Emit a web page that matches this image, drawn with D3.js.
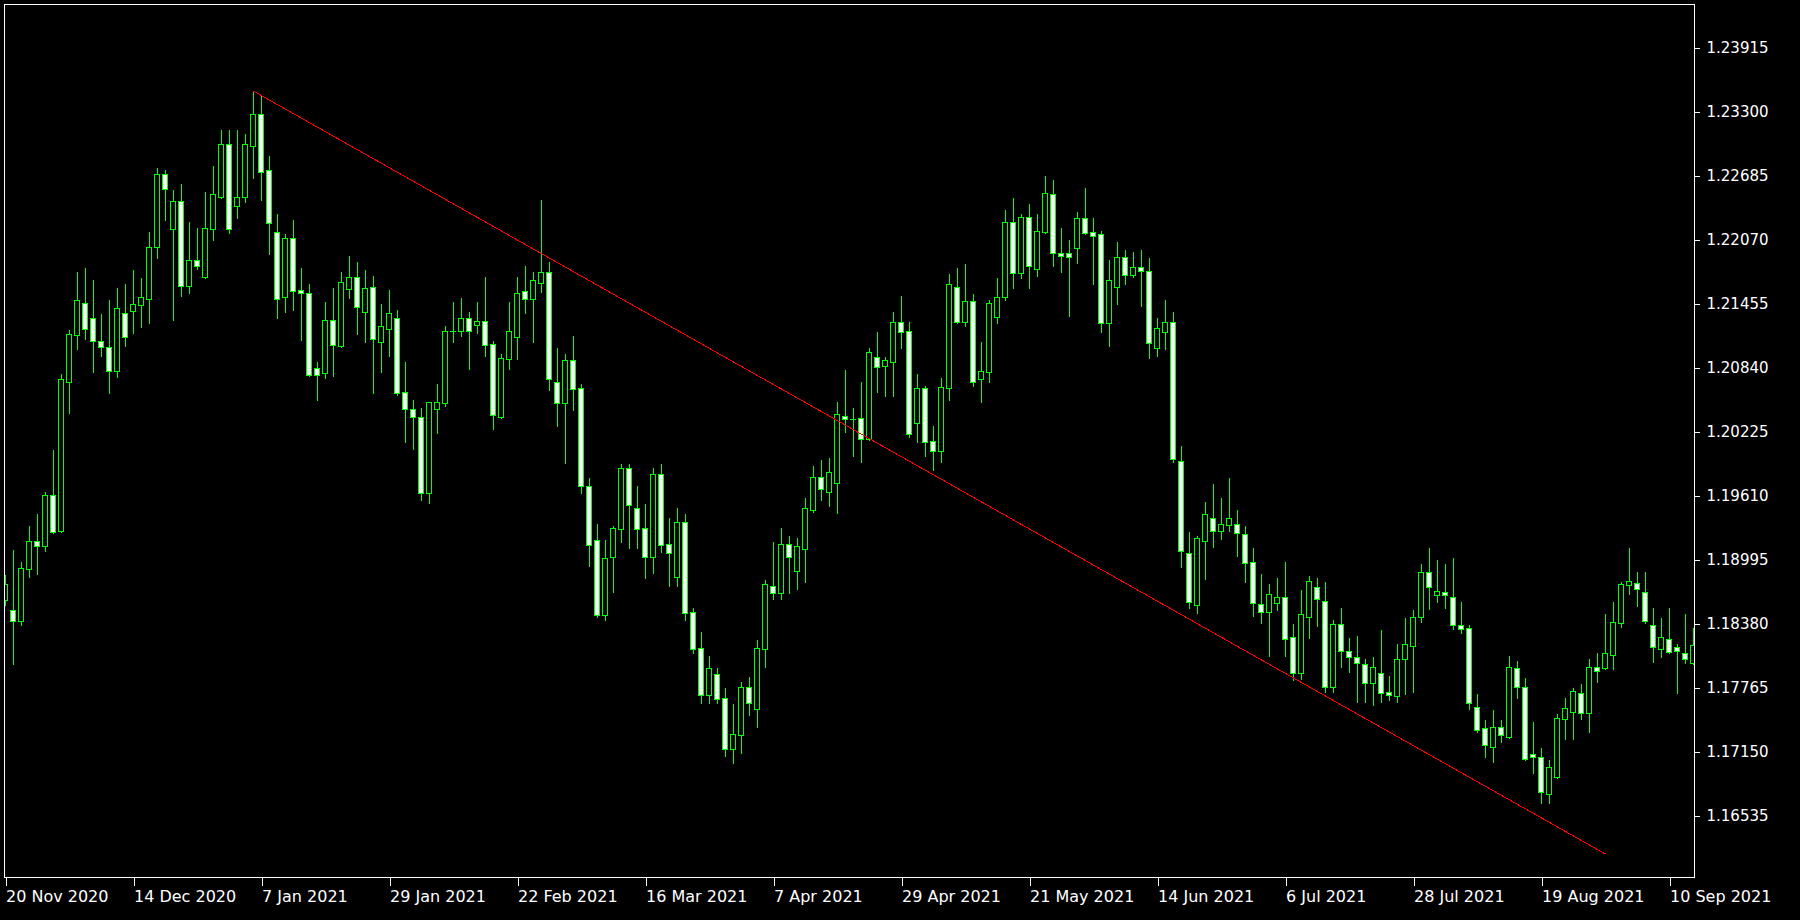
<!DOCTYPE html>
<html><head><meta charset="utf-8">
<script src="https://cdn.jsdelivr.net/npm/d3@7"></script>
<style>html,body{margin:0;padding:0;background:#000;overflow:hidden}</style>
</head><body>
<svg id="chart" width="1800" height="920"></svg>
<script>
// Daily EURUSD-style bars, one per trading day from 20 Nov 2020
const opens = [1.18607,1.18511,1.18405,1.18905,1.19174,1.19126,1.19616,1.19270,1.20702,1.21154,1.21461,1.21317,1.21096,1.21038,1.20808,1.21365,1.21384,1.21442,1.21500,1.21999,1.22701,1.22172,1.22441,1.21625,1.21874,1.21711,1.22172,1.22480,1.22989,1.22393,1.22480,1.22970,1.23277,1.22739,1.22144,1.21519,1.22086,1.21586,1.21557,1.20837,1.20788,1.21298,1.21048,1.21596,1.21711,1.21375,1.21615,1.21086,1.21211,1.21317,1.20606,1.20443,1.20366,1.19635,1.20443,1.20500,1.21192,1.21192,1.21317,1.21250,1.21288,1.21067,1.20366,1.20923,1.21134,1.21576,1.21500,1.21653,1.21759,1.20702,1.20500,1.20913,1.20644,1.19703,1.19184,1.18463,1.19020,1.19289,1.19876,1.19491,1.19299,1.19020,1.19818,1.19145,1.18828,1.19357,1.18492,1.18146,1.17694,1.17896,1.17665,1.17175,1.17310,1.17771,1.17560,1.18137,1.18742,1.18674,1.19145,1.18886,1.19097,1.19472,1.19789,1.19645,1.19731,1.20375,1.20346,1.20356,1.20154,1.20942,1.20856,1.20894,1.21279,1.21192,1.20308,1.20644,1.20135,1.20039,1.20644,1.21615,1.21279,1.21480,1.20731,1.20798,1.21327,1.21519,1.22240,1.21749,1.22288,1.21788,1.22144,1.22509,1.21942,1.21942,1.21990,1.22278,1.22144,1.22124,1.21269,1.21615,1.21903,1.21730,1.21807,1.21769,1.21029,1.21183,1.21279,1.19943,1.19059,1.18559,1.19174,1.19395,1.19270,1.19328,1.19337,1.19241,1.18972,1.18569,1.18492,1.18578,1.18636,1.18251,1.17906,1.18444,1.18732,1.18597,1.17771,1.18376,1.18117,1.18059,1.17992,1.17810,1.17906,1.17723,1.17684,1.18043,1.18165,1.18444,1.18876,1.18655,1.18684,1.18636,1.18367,1.18338,1.17579,1.17377,1.17194,1.17387,1.17290,1.17954,1.17771,1.17127,1.17098,1.16743,1.16906,1.17463,1.17531,1.17713,1.17522,1.17963,1.17954,1.18078,1.18386,1.18752,1.18771,1.18684,1.18367,1.18137,1.18232,1.18156,1.18098,1.18002];
const highs = [1.18847,1.19087,1.18972,1.19318,1.19433,1.19645,1.20049,1.20779,1.21202,1.21759,1.21798,1.21682,1.21355,1.21490,1.21605,1.21644,1.21778,1.21702,1.22144,1.22759,1.22739,1.22547,1.22605,1.22240,1.22182,1.22528,1.22778,1.23124,1.23124,1.23124,1.23085,1.23498,1.23450,1.22874,1.22317,1.22124,1.22259,1.21798,1.21644,1.20894,1.21471,1.21605,1.21759,1.21913,1.21855,1.21778,1.21721,1.21452,1.21586,1.21394,1.20894,1.20529,1.20452,1.20510,1.20683,1.21240,1.21471,1.21509,1.21375,1.21471,1.21711,1.21096,1.20971,1.21471,1.21711,1.21817,1.21759,1.22451,1.21855,1.21029,1.20971,1.21144,1.20683,1.19779,1.19337,1.19184,1.19318,1.19914,1.19914,1.19703,1.19530,1.19876,1.19914,1.19395,1.19491,1.19433,1.18530,1.18300,1.18069,1.17954,1.17761,1.17608,1.17819,1.17867,1.18223,1.18799,1.19164,1.19299,1.19222,1.19203,1.19587,1.19895,1.19952,1.19971,1.20510,1.20817,1.20452,1.20702,1.21029,1.21183,1.20942,1.21375,1.21528,1.21279,1.20779,1.20664,1.20279,1.20740,1.21740,1.21798,1.21836,1.21548,1.21086,1.21490,1.21702,1.22355,1.22470,1.22317,1.22413,1.22317,1.22682,1.22643,1.22182,1.22067,1.22336,1.22566,1.22278,1.22153,1.21874,1.22047,1.21971,1.21951,1.21971,1.21894,1.21317,1.21490,1.21375,1.20087,1.19260,1.19222,1.19549,1.19722,1.19587,1.19779,1.19472,1.19318,1.19107,1.18857,1.18761,1.18818,1.18972,1.18376,1.18703,1.18838,1.18818,1.18780,1.18415,1.18530,1.18242,1.18261,1.18040,1.18059,1.18319,1.17877,1.18185,1.18434,1.18511,1.18953,1.19107,1.18991,1.18953,1.19011,1.18588,1.18367,1.17704,1.17454,1.17550,1.17454,1.18069,1.18020,1.17857,1.17435,1.17185,1.17070,1.17512,1.17665,1.17761,1.17800,1.18040,1.18098,1.18472,1.18588,1.18780,1.19107,1.18876,1.18876,1.18530,1.18434,1.18530,1.18185,1.18472,1.18338];
const lows = [1.18559,1.17992,1.18367,1.18828,1.18857,1.19078,1.19251,1.19260,1.20404,1.21019,1.21115,1.20798,1.20952,1.20596,1.20750,1.21048,1.21173,1.21231,1.21269,1.21894,1.22259,1.21298,1.21528,1.21557,1.21788,1.21702,1.22067,1.22470,1.22134,1.22278,1.22432,1.22662,1.22451,1.21932,1.21317,1.21375,1.21394,1.21106,1.20760,1.20529,1.20740,1.20760,1.21038,1.21509,1.21163,1.21086,1.20596,1.20798,1.20952,1.20577,1.20125,1.20058,1.19568,1.19539,1.20212,1.20471,1.21086,1.21144,1.20827,1.21173,1.20952,1.20249,1.20356,1.20827,1.20923,1.21365,1.21086,1.21567,1.20625,1.20279,1.19924,1.20433,1.19635,1.18934,1.18444,1.18415,1.18684,1.19164,1.19107,1.19107,1.18818,1.18866,1.19068,1.18742,1.18742,1.18415,1.18098,1.17617,1.17617,1.17617,1.17108,1.17041,1.17137,1.17502,1.17387,1.17963,1.18617,1.18617,1.18674,1.18713,1.18780,1.19453,1.19568,1.19510,1.19443,1.20222,1.19991,1.19933,1.20145,1.20606,1.20567,1.20567,1.21029,1.20173,1.20125,1.19991,1.19856,1.19933,1.20529,1.21269,1.21240,1.20664,1.20510,1.20702,1.21269,1.21490,1.21605,1.21702,1.21605,1.21721,1.22134,1.21817,1.21759,1.21336,1.21846,1.22124,1.21644,1.21183,1.21048,1.21452,1.21644,1.21711,1.21432,1.20933,1.20952,1.21019,1.19933,1.18924,1.18530,1.18482,1.18809,1.19116,1.19193,1.19270,1.19030,1.18780,1.18453,1.18386,1.18069,1.18511,1.18069,1.17838,1.17848,1.18242,1.18357,1.17723,1.17723,1.17963,1.17915,1.17627,1.17627,1.17598,1.17627,1.17646,1.17627,1.17704,1.17723,1.18396,1.18521,1.18588,1.18530,1.18328,1.18290,1.17560,1.17338,1.17098,1.17051,1.17242,1.17281,1.17665,1.17070,1.16945,1.16656,1.16656,1.16897,1.17271,1.17271,1.17463,1.17338,1.17819,1.17944,1.17944,1.18347,1.18665,1.18549,1.18386,1.18011,1.18059,1.18098,1.17713,1.18002,1.17992];
const closes = [1.18761,1.18405,1.18915,1.19174,1.19126,1.19616,1.19260,1.20731,1.21163,1.21490,1.21211,1.21096,1.21038,1.20808,1.21413,1.21134,1.21452,1.21519,1.21999,1.22701,1.22557,1.22441,1.21625,1.21874,1.21817,1.22182,1.22509,1.22989,1.22172,1.22480,1.22989,1.23277,1.22720,1.22230,1.21500,1.22086,1.21576,1.21557,1.20769,1.20769,1.21298,1.21058,1.21663,1.21711,1.21423,1.21605,1.21115,1.21240,1.21365,1.20596,1.20443,1.20366,1.19635,1.20510,1.20510,1.21192,1.21195,1.21317,1.21192,1.21288,1.21058,1.20385,1.20933,1.21192,1.21557,1.21500,1.21682,1.21759,1.20731,1.20500,1.20913,1.20635,1.19703,1.19136,1.18463,1.19011,1.19299,1.19876,1.19520,1.19289,1.19020,1.19818,1.19136,1.19059,1.19357,1.18482,1.18137,1.17694,1.17954,1.17656,1.17175,1.17319,1.17771,1.17617,1.18146,1.18761,1.18674,1.19145,1.19020,1.19126,1.19491,1.19789,1.19674,1.19837,1.20394,1.20346,1.20343,1.20154,1.20990,1.20846,1.20913,1.21279,1.21183,1.20202,1.20644,1.20125,1.20039,1.20654,1.21644,1.21279,1.21480,1.20702,1.20808,1.21461,1.21519,1.22240,1.21749,1.22288,1.21817,1.22153,1.22518,1.21942,1.21913,1.21903,1.22278,1.22134,1.22105,1.21269,1.21682,1.21903,1.21730,1.21807,1.21769,1.21077,1.21221,1.21279,1.19962,1.19078,1.18588,1.19203,1.19433,1.19270,1.19337,1.19395,1.19251,1.18963,1.18578,1.18492,1.18665,1.18636,1.18232,1.17906,1.18472,1.18790,1.18617,1.17771,1.18376,1.18117,1.18059,1.18002,1.17810,1.17963,1.17713,1.17694,1.18040,1.18185,1.18444,1.18876,1.18732,1.18694,1.18655,1.18367,1.18328,1.17617,1.17358,1.17214,1.17387,1.17310,1.17963,1.17771,1.17079,1.17098,1.16762,1.17002,1.17473,1.17569,1.17733,1.17522,1.17963,1.17925,1.18098,1.18396,1.18761,1.18790,1.18713,1.18405,1.18156,1.18251,1.18108,1.18117,1.18043,1.18175];

const timeTickBars = [0,16,32,48,64,80,96,112,128,144,160,176,192,208];
const timeTickLabels = ["20 Nov 2020","14 Dec 2020","7 Jan 2021","29 Jan 2021","22 Feb 2021","16 Mar 2021","7 Apr 2021","29 Apr 2021","21 May 2021","14 Jun 2021","6 Jul 2021","28 Jul 2021","19 Aug 2021","10 Sep 2021"];
const priceTicks = [1.23915,1.23300,1.22685,1.22070,1.21455,1.20840,1.20225,1.19610,1.18995,1.18380,1.17765,1.17150,1.16535];
const trendBars = [31, 200];
const trendPrices = [1.23498, 1.16166];

const svg = d3.select("#chart");
const L = 5, T = 5, R = 1695, B = 878;   // plot interior edges
const lastBar = opens.length - 1;
const x = d3.scaleLinear().domain([0, lastBar]).range([5, 5 + 8 * lastBar]);
const y = d3.scaleLinear().domain([1.15936, 1.24335]).range([878, 4]);
const LIME = "#00ff00";

svg.append("rect").attr("width", 1800).attr("height", 920).attr("fill", "#000");
svg.append("defs").append("clipPath").attr("id", "plotclip")
  .append("rect").attr("x", L).attr("y", T).attr("width", R - L - 1).attr("height", B - T - 1);

const g = svg.append("g").attr("clip-path", "url(#plotclip)").attr("shape-rendering", "crispEdges");
const bars = d3.range(opens.length).map(i => ({i, o: opens[i], h: highs[i], l: lows[i], c: closes[i]}));

const cg = g.selectAll("g.c").data(bars).join("g").attr("class", "c");
cg.append("rect")
  .attr("x", d => Math.round(x(d.i)))
  .attr("y", d => Math.round(y(d.h)))
  .attr("width", 1)
  .attr("height", d => Math.round(y(d.l)) - Math.round(y(d.h)) + 1)
  .attr("fill", LIME);
cg.each(function(d) {
  const sel = d3.select(this);
  const cx = Math.round(x(d.i));
  const yo = Math.round(y(d.o)), yc = Math.round(y(d.c));
  const top = Math.min(yo, yc), bot = Math.max(yo, yc);
  if (bot - top < 1) {
    sel.append("rect").attr("x", cx - 3).attr("y", top).attr("width", 6).attr("height", 1).attr("fill", LIME);
  } else {
    sel.append("rect").attr("x", cx - 2.5).attr("y", top + 0.5).attr("width", 5).attr("height", bot - top)
      .attr("fill", d.c >= d.o ? "#000" : "#fff").attr("stroke", LIME).attr("stroke-width", 1);
  }
});

// trend line
g.append("line")
  .attr("x1", x(trendBars[0]) + 0.5).attr("y1", y(trendPrices[0]))
  .attr("x2", x(trendBars[1]) + 0.5).attr("y2", y(trendPrices[1]))
  .attr("stroke", "#ff0000").attr("stroke-width", 1);

// frame
svg.append("rect").attr("x", 4.5).attr("y", 4.5).attr("width", R - 4.5 - 0.5 - 0.5 + 0.5).attr("height", B - 4.5 - 0.5)
  .attr("fill", "none").attr("stroke", "#fff").attr("stroke-width", 1).attr("shape-rendering", "crispEdges");

// price axis
const yAxis = d3.axisRight(y).tickValues(priceTicks).tickFormat(d3.format(".5f")).tickSize(5).tickPadding(7);
const ya = svg.append("g").attr("transform", `translate(${R - 0.5},0)`).call(yAxis);
ya.select(".domain").remove();
ya.selectAll("line").attr("stroke", "#fff").attr("shape-rendering", "crispEdges");
ya.selectAll("text").attr("fill", "#fff").style("font-family", "DejaVu Sans").style("font-size", "15px");

// time axis
const xAxis = d3.axisBottom(x).tickValues(timeTickBars).tickFormat((d, i) => timeTickLabels[i]).tickSize(8).tickPadding(5);
const xa = svg.append("g").attr("transform", `translate(0.5,${B - 0.5})`).call(xAxis);
xa.select(".domain").remove();
xa.selectAll("line").attr("stroke", "#fff").attr("shape-rendering", "crispEdges");
xa.selectAll("text").attr("fill", "#fff").attr("text-anchor", "start").attr("x", 0)
  .style("font-family", "DejaVu Sans").style("font-size", "16px");
</script>
</body></html>
